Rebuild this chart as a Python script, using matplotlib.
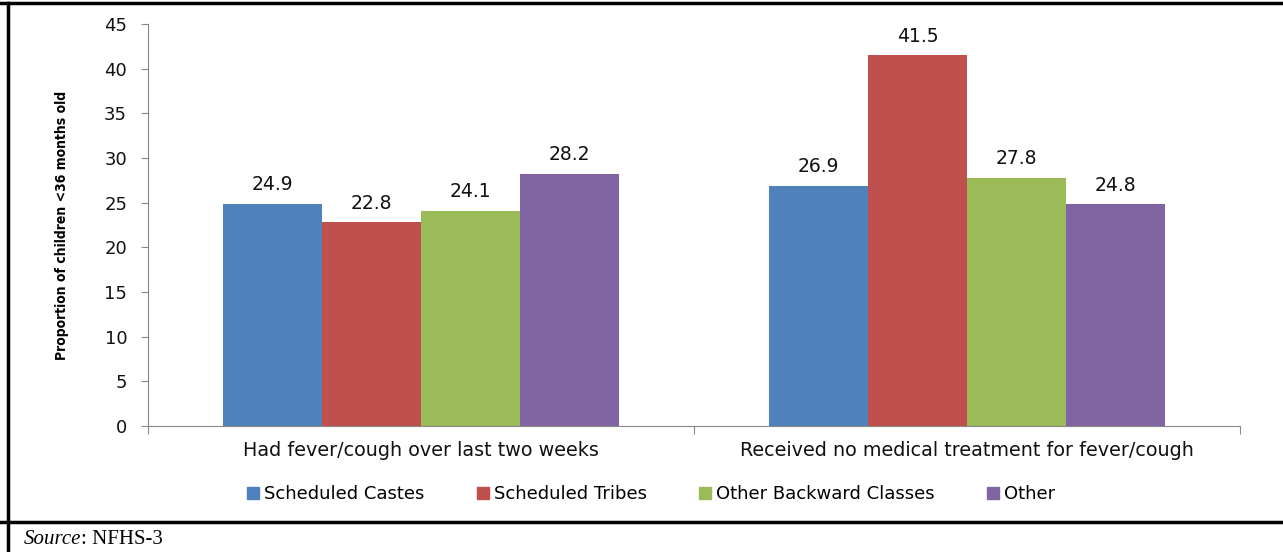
import numpy as np
import matplotlib.pyplot as plt
from matplotlib.lines import Line2D

categories = ["Had fever/cough over last two weeks",
              "Received no medical treatment for fever/cough"]
groups = ["Scheduled Castes", "Scheduled Tribes", "Other Backward Classes", "Other"]
values = {
    "Scheduled Castes": [24.9, 26.9],
    "Scheduled Tribes": [22.8, 41.5],
    "Other Backward Classes": [24.1, 27.8],
    "Other": [28.2, 24.8],
}
colors = ["#4F81BD", "#C0504D", "#9BBB59", "#8064A2"]
yticks = list(range(0, 50, 5))

plt.rcParams["font.family"] = ["DejaVu Sans"]

fig = plt.figure(figsize=(12.83, 5.52), dpi=100)
ax = fig.add_axes([148 / 1283, 1 - 426 / 552, (1240 - 148) / 1283, (426 - 24) / 552])

x = np.arange(len(categories))
bar_w = 0.725 / len(groups)
for i, (g, c) in enumerate(zip(groups, colors)):
    pos = x - 0.725 / 2 + bar_w * (i + 0.5)
    bars = ax.bar(pos, values[g], width=bar_w, color=c, label=g, zorder=2)
    for b, v in zip(bars, values[g]):
        ax.annotate(f"{v}", xy=(b.get_x() + b.get_width() / 2, v), xytext=(0, 7),
                    textcoords="offset points", ha="center", va="bottom",
                    fontsize=13.5, color="#111111")

ax.set_xlim(-0.5, len(categories) - 0.5)
ax.set_ylim(0, 45)
ax.set_yticks(yticks)
ax.tick_params(axis="y", labelsize=13, length=5, color="#888888", pad=10, labelcolor="#111111")
ax.set_xticks([-0.5, 0.5, 1.5])
ax.set_xticklabels([])
ax.tick_params(axis="x", length=6, color="#888888")
ax.set_xticks(x, minor=True)
ax.set_xticklabels(categories, minor=True, fontsize=13.8, color="#111111")
ax.tick_params(axis="x", which="minor", length=0, pad=11)

for s in ["top", "right"]:
    ax.spines[s].set_visible(False)
for s in ["left", "bottom"]:
    ax.spines[s].set_color("#888888")

ax.set_ylabel("Proportion of children <36 months old", fontsize=10, fontweight="bold",
              fontstretch="condensed", labelpad=25)

handles = [Line2D([0], [0], marker="s", color="none", markerfacecolor=c,
                  markeredgecolor=c, markersize=9, label=g) for g, c in zip(groups, colors)]
fig.legend(handles=handles, loc="center", bbox_to_anchor=(650 / 1283, 1 - 494 / 552),
           ncol=4, frameon=False, fontsize=13, handletextpad=0.15, columnspacing=2.8,
           handlelength=0.9)

# table-cell border around the figure
fig.add_artist(Line2D([0, 1], [1 - 3 / 552, 1 - 3 / 552], color="black", lw=2.5,
                      transform=fig.transFigure))
fig.add_artist(Line2D([8 / 1283, 8 / 1283], [0, 1 - 3 / 552], color="black", lw=2.5,
                      transform=fig.transFigure))
fig.add_artist(Line2D([0, 1], [1 - 522 / 552, 1 - 522 / 552], color="black", lw=2.5,
                      transform=fig.transFigure))

src = fig.text(24 / 1283, 1 - 540 / 552, "Source", fontsize=15, style="italic",
               family="Liberation Serif", va="center")
fig.canvas.draw()
bb = src.get_window_extent()
fig.text(bb.x1 / fig.bbox.width, 1 - 540 / 552, ": NFHS-3", fontsize=15,
         family="Liberation Serif", va="center")

fig.savefig("out.png", dpi=100)
